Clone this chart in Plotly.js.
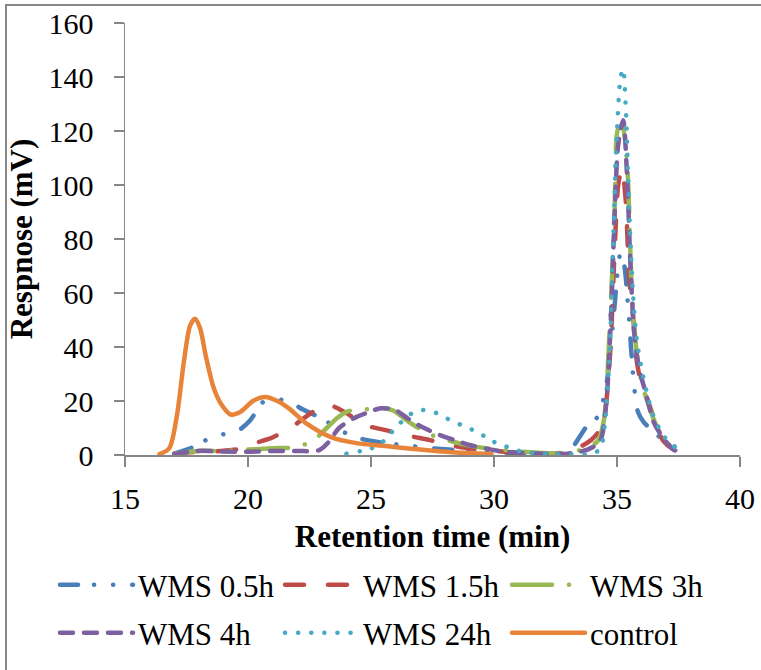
<!DOCTYPE html>
<html>
<head>
<meta charset="utf-8">
<script src="https://cdn.plot.ly/plotly-3.0.1.min.js"></script>
<style>
  html, body { margin: 0; padding: 0; background: #fff; }
  #chart { width: 761px; height: 670px; }
  .js-line { stroke-linecap: round; stroke-linejoin: round; }
</style>
</head>
<body>
<div id="chart"></div>
<script>
// ---- data ----
const seriesNames = ["WMS 0.5h", "WMS 1.5h", "WMS 3h", "WMS 4h", "WMS 24h", "control"];

const wms05_x = [17.0, 17.8, 18.6, 19.2, 19.6, 20.1, 20.6, 21.1, 21.7, 22.1, 23.0, 24.0, 24.6, 25.5, 26.5, 27.5, 28.5, 29.5, 30.5, 31.5, 32.5, 33.1, 33.5, 33.8, 34.2, 34.55, 34.85, 35.05, 35.15, 35.3, 35.45, 35.57, 35.67, 35.85, 36.1, 36.46, 36.8, 37.15, 37.5, 37.7];
const wms05_y = [0.5, 3.0, 7.0, 8.0, 9.0, 13.0, 19.5, 20.5, 20.0, 17.5, 13.5, 8.0, 6.0, 4.5, 3.5, 2.5, 1.8, 1.2, 0.8, 0.5, 0.5, 2.0, 7.0, 11.0, 14.0, 25.0, 50.0, 70.0, 75.0, 70.0, 55.0, 40.0, 28.0, 16.0, 12.0, 9.0, 6.0, 3.7, 2.8, 2.5];

const wms15_x = [17.0, 18.0, 18.9, 19.8, 20.5, 21.0, 21.8, 22.4, 23.0, 23.3, 23.6, 24.0, 24.8, 25.6, 26.6, 27.4, 28.1, 28.9, 30.1, 31.0, 32.0, 33.0, 33.5, 34.0, 34.4, 34.7, 34.9, 35.05, 35.2, 35.35, 35.5, 35.65, 35.8, 36.0, 36.26, 36.6, 36.9, 37.3, 37.6];
const wms15_y = [0.5, 1.2, 1.5, 2.5, 5.0, 6.5, 10.5, 14.5, 18.0, 18.5, 17.5, 15.5, 11.0, 9.2, 7.0, 5.5, 3.8, 2.6, 1.5, 0.8, 0.5, 1.0, 3.0, 6.0, 11.0, 35.0, 75.0, 100.0, 106.0, 95.0, 65.0, 52.0, 35.0, 26.0, 20.0, 11.0, 5.0, 2.0, 1.0];

const wms3_x = [17.0, 18.0, 19.0, 20.0, 21.0, 21.8, 22.6, 23.2, 23.6, 24.0, 24.5, 25.0, 25.5, 25.9, 26.5, 27.3, 28.3, 29.1, 30.0, 30.8, 31.5, 32.5, 33.2, 33.8, 34.2, 34.45, 34.7, 34.9, 35.05, 35.2, 35.4, 35.6, 35.8, 36.0, 36.3, 36.7, 37.1, 37.5];
const wms3_y = [0.5, 1.5, 1.5, 2.0, 2.5, 2.8, 5.0, 10.0, 13.5, 16.0, 16.8, 17.0, 17.3, 16.5, 12.5, 8.0, 5.0, 3.3, 2.2, 1.5, 1.0, 0.5, 1.0, 3.0, 5.0, 12.0, 46.0, 90.0, 121.0, 122.0, 109.0, 62.0, 38.0, 27.0, 18.0, 9.0, 4.0, 1.5];

const wms4_x = [17.0, 17.9, 19.0, 20.0, 21.0, 22.0, 22.9, 23.3, 23.7, 24.3, 24.8, 25.4, 26.0, 26.5, 27.0, 27.8, 28.4, 29.0, 30.2, 31.0, 32.0, 33.0, 33.8, 34.3, 34.55, 34.75, 34.9, 35.05, 35.25, 35.4, 35.55, 35.7, 35.9, 36.2, 36.5, 36.9, 37.3, 37.6];
const wms4_y = [0.3, 1.5, 1.3, 1.2, 1.5, 1.5, 1.8, 5.0, 10.0, 13.6, 15.5, 17.3, 16.6, 13.5, 10.7, 7.4, 5.5, 3.7, 1.5, 0.8, 0.5, 0.5, 2.0, 5.0, 18.0, 50.0, 88.0, 115.0, 124.0, 105.0, 70.0, 45.0, 32.0, 22.0, 12.0, 6.0, 2.0, 1.0];

const wms24_x = [24.0, 24.6, 25.05, 25.5, 25.8, 26.1, 26.5, 26.9, 27.4, 27.8, 28.2, 28.7, 29.15, 29.6, 29.96, 30.45, 30.9, 31.5, 32.5, 33.3, 33.8, 34.3, 34.5, 34.7, 34.85, 35.0, 35.15, 35.25, 35.35, 35.5, 35.65, 35.8, 36.0, 36.2, 36.5, 36.9, 37.3, 37.7];
const wms24_y = [0.5, 1.5, 2.6, 5.0, 8.0, 11.0, 14.4, 16.6, 16.3, 15.0, 13.0, 11.0, 9.2, 7.0, 5.0, 3.3, 1.8, 0.8, 0.3, 0.2, 0.3, 2.0, 11.0, 38.0, 81.0, 120.0, 140.0, 143.0, 130.0, 90.0, 60.0, 43.0, 32.0, 23.6, 14.0, 7.0, 3.3, 0.7];

const control_x = [16.4, 16.8, 17.1, 17.4, 17.65, 17.85, 18.05, 18.3, 18.6, 18.9, 19.3, 19.7, 20.2, 20.7, 21.2, 21.7, 22.4, 23.4, 24.4, 25.6, 27.0, 28.3, 29.9];
const control_y = [0.3, 2.5, 14.0, 35.0, 48.0, 50.5, 47.0, 36.0, 25.0, 19.0, 15.0, 16.0, 20.0, 21.5, 20.0, 17.0, 11.5, 6.5, 4.4, 3.3, 2.0, 1.0, 0.3];

const xTicks = [15, 20, 25, 30, 35, 40];
const yTicks = [0, 20, 40, 60, 80, 100, 120, 140, 160];

// ---- styles ----
const colors = ["#4A7EBB", "#BE4B48", "#98B954", "#7D60A0", "#46AAC5", "#E8843A"];
const dashes = [
  "18px,16px,0.1px,19px,0.1px,19px",
  "19px,24px",
  "40px,17px,0.1px,17px",
  "13px,11px",
  "0.1px,13px",
  "solid"
];
const xs = [wms05_x, wms15_x, wms3_x, wms4_x, wms24_x, control_x];
const ys = [wms05_y, wms15_y, wms3_y, wms4_y, wms24_y, control_y];

const W = 761, H = 670;
const legendPos = [[55, 585], [280, 585], [507, 585], [55, 633], [280, 633], [507, 633]];
const legendKeys = ["legend", "legend2", "legend3", "legend4", "legend5", "legend6"];

const traces = seriesNames.map((name, i) => ({
  type: "scatter",
  mode: "lines",
  name: name,
  x: xs[i],
  y: ys[i],
  line: { color: colors[i], width: 4.5, dash: dashes[i], shape: "spline", smoothing: 0.8 },
  legend: legendKeys[i],
  hoverinfo: "skip"
}));

const font = "Liberation Serif, Times New Roman, serif";
const axisColor = "#868686";

const layout = {
  width: W, height: H,
  margin: { l: 125, r: 21, t: 23, b: 215 },
  paper_bgcolor: "#fff",
  plot_bgcolor: "#fff",
  font: { family: font, color: "#000", size: 30 },
  showlegend: true,
  xaxis: {
    range: [15, 40],
    tickvals: xTicks,
    ticktext: xTicks.map(String),
    showgrid: false, zeroline: false,
    showline: true, linecolor: axisColor, linewidth: 1.5,
    ticks: "outside", ticklen: 10, tickwidth: 1.5, tickcolor: axisColor,
    tickfont: { family: font, size: 30, color: "#000" },
    ticklabelstandoff: 6,
    title: { text: "<b>Retention time (min)</b>", font: { family: font, size: 31, color: "#000" }, standoff: 12 },
    fixedrange: true
  },
  yaxis: {
    range: [0, 160],
    tickvals: yTicks,
    ticktext: yTicks.map(String),
    showgrid: false, zeroline: false,
    showline: true, linecolor: axisColor, linewidth: 1.5,
    ticks: "outside", ticklen: 10, tickwidth: 1.5, tickcolor: axisColor,
    tickfont: { family: font, size: 30, color: "#000" },
    ticklabelstandoff: 14,
    title: { text: "<b>Respnose (mV)</b>", font: { family: font, size: 31, color: "#000" }, standoff: 6 },
    fixedrange: true
  },
  shapes: [{
    type: "rect", xref: "paper", yref: "paper", layer: "below",
    x0: (6 - 125) / 615, x1: (800 - 125) / 615,
    y0: (455 - 720) / 432, y1: (455 - 5) / 432,
    line: { color: axisColor, width: 2 }, fillcolor: "rgba(0,0,0,0)"
  }]
};

legendKeys.forEach((k, i) => {
  layout[k] = {
    orientation: "h",
    xref: "container", yref: "container",
    x: legendPos[i][0] / W, y: 1 - legendPos[i][1] / H,
    xanchor: "left", yanchor: "middle",
    itemwidth: 73,
    bgcolor: "rgba(0,0,0,0)", borderwidth: 0,
    font: { family: font, size: 31, color: "#000" },
    itemclick: false, itemdoubleclick: false
  };
});

Plotly.newPlot("chart", traces, layout, { displayModeBar: false, staticPlot: true });
</script>
</body>
</html>
